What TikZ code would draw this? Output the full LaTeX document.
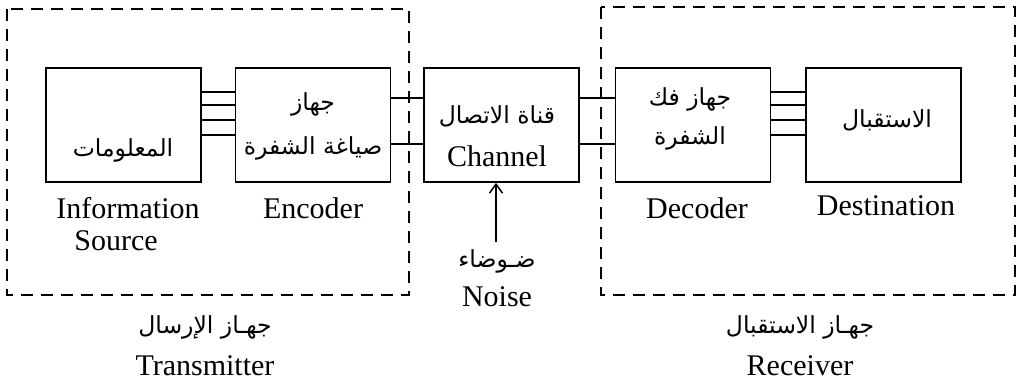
\documentclass[tikz,border=0pt]{standalone}
\usepackage{fontspec}
\setmainfont{Liberation Serif}
\newfontfamily\arabicfont[Script=Arabic]{DejaVu Sans}
\TeXXeTstate=1
\usetikzlibrary{arrows.meta}
\newcommand{\ar}[1]{{\arabicfont\fontsize{23.5}{27}\selectfont\beginR #1\endR}}
\tikzset{
  blk/.style={draw, line width=1.7pt, minimum width=155pt, minimum height=114pt, inner sep=0pt},
  wire/.style={line width=1.5pt},
  group/.style={draw, line width=1.5pt, dash pattern=on 12pt off 8pt},
  en/.style={font=\fontsize{30}{34}\selectfont, inner sep=0pt},
  arl/.style={inner sep=0pt}
}
\begin{document}
\begin{tikzpicture}[x=1pt, y=-1pt]
\useasboundingbox (0,0) rectangle (1022,384);

% dashed groups: transmitter and receiver
\draw[group] (7,9) rectangle (409,295);
\draw[group] (601,7) rectangle (1015,295);

% blocks
\node[blk] (src)  at (123.5,125) {};
\node[blk] (enc)  at (313,125)   {};
\node[blk] (chan) at (501.5,125) {};
\node[blk] (dec)  at (693,125)   {};
\node[blk] (dst)  at (883.5,125) {};

% four-wire links
\foreach \d in {33,20,5,-10} {
  \draw[wire] ([yshift=\d pt]src.east) -- ([yshift=\d pt]enc.west);
  \draw[wire] ([yshift=\d pt]dec.east) -- ([yshift=\d pt]dst.west);
}
% two-wire links through the channel
\foreach \d in {27,-19} {
  \draw[wire] ([yshift=\d pt]enc.east) -- ([yshift=\d pt]chan.west);
  \draw[wire] ([yshift=\d pt]chan.east) -- ([yshift=\d pt]dec.west);
}

% noise input
\coordinate (nz) at (496,242);
\draw[wire, -{Straight Barb[length=9pt, width=13pt, line width=1.5pt]}] (nz) -- ([xshift=-5.5pt]chan.south);

% text inside blocks
\node[arl] (t1) at (123,150) {\ar{المعلومات}};
\node[arl] (t2) at (313,104) {\ar{جهاز}};
\node[arl] (t3) at (313,148) {\ar{صياغة الشفرة}};
\node[arl] (t4) at (497,116) {\ar{قناة الاتصال}};
\node[en]  (t5) at (497,156) {Channel};
\node[arl] (t6) at (690,99) {\ar{جهاز فك}};
\node[arl] (t7) at (690,138) {\ar{الشفرة}};
\node[arl] (t8) at (887,120) {\ar{الاستقبال}};

% captions under blocks
\node[en] (c1) at (128,208) {Information};
\node[en] (c2) at (116,241) {Source};
\node[en] (c3) at (313,208) {Encoder};
\node[en] (c4) at (697,208) {Decoder};
\node[en] (c5) at (886,206) {Destination};

% noise label
\node[arl] (n1) at (497,261) {\ar{ضـوضاء}};
\node[en]  (n2) at (497,297) {Noise};

% group captions
\node[arl] (g1) at (205,327) {\ar{جهـاز الإرسال}};
\node[en]  (g2) at (205,366) {Transmitter};
\node[arl] (g3) at (800,327) {\ar{جهـاز الاستقبال}};
\node[en]  (g4) at (800,366) {Receiver};
\end{tikzpicture}
\end{document}
